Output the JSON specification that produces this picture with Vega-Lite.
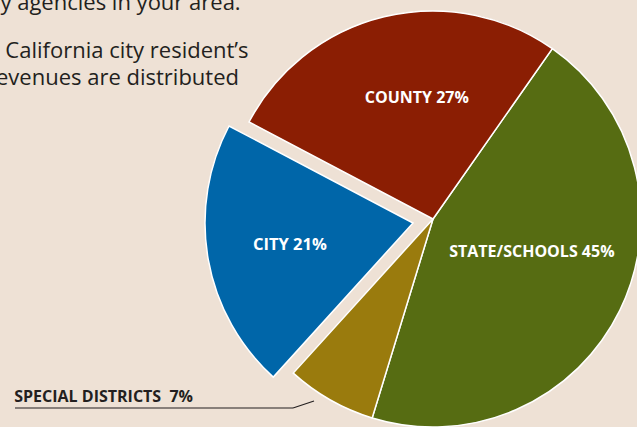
{
  "$schema": "https://vega.github.io/schema/vega-lite/v6.json",
  "width": 866,
  "height": 438,
  "autosize": "none",
  "padding": 0,
  "background": "#EEE1D5",
  "config": {"view": {"stroke": null}},
  "title": {
    "text": "by agencies in your area.",
    "subtitle": ["\u200b\u2002\u2004California city resident’s", "revenues are distributed"],
    "anchor": "start",
    "frame": "group",
    "orient": "top",
    "offset": -90,
    "dx": -13,
    "font": "Open Sans",
    "fontSize": 22,
    "fontWeight": "normal",
    "color": "#231F20",
    "subtitleFont": "Open Sans",
    "subtitleFontSize": 22,
    "subtitleColor": "#231F20",
    "subtitlePadding": 26,
    "subtitleLineHeight": 27
  },
  "data": {
    "values": [
      {"name": "State/Schools", "label": "STATE/SCHOOLS 45%", "value": 45, "order": 1},
      {"name": "Special Districts", "label": "SPECIAL DISTRICTS\u00a0\u00a07%", "value": 7, "order": 2},
      {"name": "City", "label": "CITY 21%", "value": 21, "order": 3},
      {"name": "County", "label": "COUNTY 27%", "value": 27, "order": 4}
    ]
  },
  "layer": [
    {
      "mark": {"type": "arc", "outerRadius": 208, "stroke": "white", "strokeWidth": 1.5},
      "encoding": {
        "theta": {"field": "value", "type": "quantitative", "stack": true, "scale": {"range": [0.611, 6.894]}},
        "order": {"field": "order", "type": "quantitative", "sort": "ascending"},
        "color": {"field": "name", "type": "nominal", "legend": null,
          "scale": {"domain": ["State/Schools", "Special Districts", "City", "County"], "range": ["#566C12", "#9A7B0D", "#0066A9", "#8B1E03"]}},
        "opacity": {"condition": {"test": "datum.name === 'City'", "value": 0}, "value": 1}
      }
    },
    {
      "mark": {"type": "arc", "outerRadius": 208, "stroke": "white", "strokeWidth": 1.5, "xOffset": -20, "yOffset": 4},
      "encoding": {
        "theta": {"field": "value", "type": "quantitative", "stack": true},
        "order": {"field": "order", "type": "quantitative", "sort": "ascending"},
        "color": {"field": "name", "type": "nominal", "legend": null},
        "opacity": {"condition": {"test": "datum.name === 'City'", "value": 1}, "value": 0}
      }
    },
    {
      "mark": {"type": "text", "radius": 124, "dx": 13, "font": "Open Sans", "fontWeight": "bold", "fontSize": 16, "color": "white"},
      "encoding": {
        "theta": {"field": "value", "type": "quantitative", "stack": true},
        "order": {"field": "order", "type": "quantitative", "sort": "ascending"},
        "text": {"field": "label"},
        "opacity": {"condition": {"test": "datum.name === 'County'", "value": 1}, "value": 0}
      }
    },
    {
      "mark": {"type": "text", "radius": 110, "dy": -15, "font": "Open Sans", "fontWeight": "bold", "fontSize": 16, "color": "white"},
      "encoding": {
        "theta": {"field": "value", "type": "quantitative", "stack": true},
        "order": {"field": "order", "type": "quantitative", "sort": "ascending"},
        "text": {"field": "label"},
        "opacity": {"condition": {"test": "datum.name === 'State/Schools'", "value": 1}, "value": 0}
      }
    },
    {
      "mark": {"type": "text", "radius": 125, "xOffset": -20, "yOffset": 4, "font": "Open Sans", "fontWeight": "bold", "fontSize": 16.5, "color": "white"},
      "encoding": {
        "theta": {"field": "value", "type": "quantitative", "stack": true},
        "order": {"field": "order", "type": "quantitative", "sort": "ascending"},
        "text": {"field": "label"},
        "opacity": {"condition": {"test": "datum.name === 'City'", "value": 1}, "value": 0}
      }
    },
    {
      "mark": {"type": "text", "radius": 210, "align": "left", "dx": -315, "dy": -5, "font": "Open Sans", "fontWeight": "bold", "fontSize": 16, "color": "#231F20"},
      "encoding": {
        "theta": {"field": "value", "type": "quantitative", "stack": true},
        "order": {"field": "order", "type": "quantitative", "sort": "ascending"},
        "text": {"field": "label"},
        "opacity": {"condition": {"test": "datum.name === 'Special Districts'", "value": 1}, "value": 0}
      }
    },
    {
      "data": {"values": [{"part": "flat"}]},
      "mark": {"type": "rule", "color": "#231F20", "strokeWidth": 1.2},
      "encoding": {
        "x": {"value": 15}, "x2": {"value": 293},
        "y": {"value": 408}, "y2": {"value": 408}
      }
    },
    {
      "data": {"values": [{"part": "slant"}]},
      "mark": {"type": "rule", "color": "#231F20", "strokeWidth": 1.2},
      "encoding": {
        "x": {"value": 293}, "x2": {"value": 314},
        "y": {"value": 408}, "y2": {"value": 401}
      }
    }
  ]
}
